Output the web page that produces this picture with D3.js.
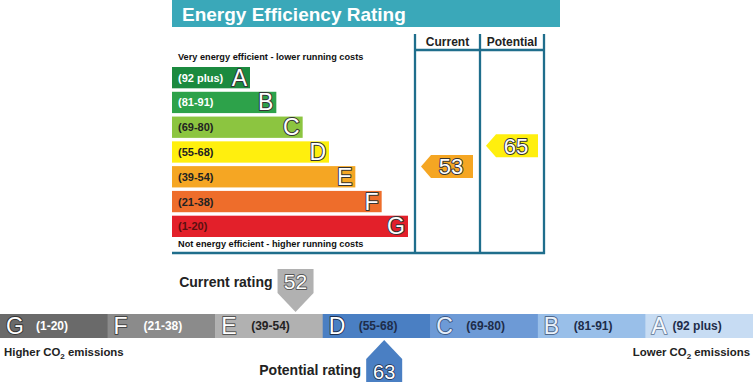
<!DOCTYPE html>
<html>
<head>
<meta charset="utf-8">
<script src="https://cdn.jsdelivr.net/npm/d3@7"></script>
<style>
  body { margin: 0; background: #fff; }
  svg { display: block; font-family: 'Liberation Sans', Arial, sans-serif; }
  .outl { paint-order: stroke; stroke-linejoin: round; }
</style>
</head>
<body>
<div id="chart"></div>
<script>
const BANDS = ['A', 'B', 'C', 'D', 'E', 'F', 'G'];
const RANGES = ['(92 plus)', '(81-91)', '(69-80)', '(55-68)', '(39-54)', '(21-38)', '(1-20)'];
const BAND_MIN = [92, 81, 69, 55, 39, 21, 1];
const BAND_MAX = [100, 91, 80, 68, 54, 38, 20];
const EER_COLORS = ['#1b8a3f', '#2da24a', '#8cc540', '#ffef0e', '#f5a623', '#ee6d2b', '#e3202a'];
const EER_LABEL_COLORS = ['#fff', '#fff', '#222', '#222', '#222', '#222', '#5a1010'];
const CO2_COLORS = ['#c7dcf3', '#99bfe9', '#6d9ad6', '#4a7fc3', '#b1b1b1', '#8b8b8b', '#6a6a6a'];
const CO2_LETTER_FILL = ['#f4f8fd', '#eaf2fb', '#e5eefa', '#ffffff', '#ffffff', '#ffffff', '#ffffff'];
const CO2_LETTER_STROKE = ['#6f86a3', '#50688c', '#3d5a86', '#1c2e4d', '#555', '#444', '#333'];
const CO2_LABEL_COLORS = ['#1e2d4a', '#1e2d4a', '#1e2d4a', '#1e2d4a', '#222', '#fff', '#fff'];

const eerCurrent = 53;
const eerPotential = 65;
const co2Current = 52;
const co2Potential = 63;

const W = 753, H = 382;
const svg = d3.select('#chart').append('svg')
  .attr('width', W).attr('height', H);

// ---------- top: energy efficiency rating ----------
const teal = '#3aa8b9';
const frame = '#1f6e8c';

svg.append('rect')
  .attr('x', 172).attr('y', 0).attr('width', 388).attr('height', 27)
  .attr('fill', teal);
svg.append('text')
  .attr('x', 182).attr('y', 21)
  .attr('fill', '#fff').attr('font-size', 19).attr('font-weight', 'bold')
  .text('Energy Efficiency Rating');

const y = d3.scaleBand().domain(BANDS).range([67, 237]).paddingInner(0.14);
const barEnd = d3.scaleLinear().domain([0, BANDS.length - 1]).range([250, 408]);

const bandG = svg.append('g');
bandG.selectAll('rect').data(BANDS).join('rect')
  .attr('x', 172)
  .attr('y', d => y(d))
  .attr('width', (d, i) => barEnd(i) - 172)
  .attr('height', y.bandwidth())
  .attr('fill', (d, i) => EER_COLORS[i]);

bandG.selectAll('text.range').data(RANGES).join('text')
  .attr('class', 'range')
  .attr('x', 178)
  .attr('y', (d, i) => y(BANDS[i]) + y.bandwidth() / 2 + 4)
  .attr('font-size', 11).attr('font-weight', 'bold')
  .attr('fill', (d, i) => EER_LABEL_COLORS[i])
  .text(d => d);

bandG.selectAll('text.letter').data(BANDS).join('text')
  .attr('class', 'letter outl')
  .attr('x', (d, i) => barEnd(i) - 3)
  .attr('y', d => y(d) + y.bandwidth() / 2 + 8)
  .attr('text-anchor', 'end')
  .attr('font-size', 23)
  .attr('fill', '#fff').attr('stroke', '#333').attr('stroke-width', 2)
  .text(d => d);

svg.append('text')
  .attr('x', 178).attr('y', 60)
  .attr('font-size', 9.2).attr('font-weight', 'bold').attr('fill', '#111')
  .text('Very energy efficient - lower running costs');
svg.append('text')
  .attr('x', 178).attr('y', 247)
  .attr('font-size', 9.2).attr('font-weight', 'bold').attr('fill', '#111')
  .text('Not energy efficient - higher running costs');

// frame
const colX = [415, 480, 544];
const fg = svg.append('g').attr('stroke', frame).attr('stroke-width', 2.3);
fg.selectAll('line.v').data(colX).join('line')
  .attr('class', 'v')
  .attr('x1', d => d).attr('x2', d => d)
  .attr('y1', 34).attr('y2', 254);
fg.append('line').attr('x1', colX[0]).attr('x2', colX[2]).attr('y1', 50).attr('y2', 50);
fg.append('line').attr('x1', 172).attr('x2', colX[2] + 1).attr('y1', 253).attr('y2', 253);

svg.append('text')
  .attr('x', (colX[0] + colX[1]) / 2).attr('y', 46)
  .attr('text-anchor', 'middle').attr('font-size', 12).attr('font-weight', 'bold').attr('fill', '#222')
  .text('Current');
svg.append('text')
  .attr('x', (colX[1] + colX[2]) / 2).attr('y', 46)
  .attr('text-anchor', 'middle').attr('font-size', 12).attr('font-weight', 'bold').attr('fill', '#222')
  .text('Potential');

// value -> vertical position, piecewise through the band slots
const gap = y.step() - y.bandwidth();
const rev = BANDS.slice().reverse();
const yDomain = rev.map((b, i) => BAND_MIN[BANDS.length - 1 - i]).concat([BAND_MAX[0] + 1]);
const yRange = rev.map(b => y(b) + y.bandwidth() + gap / 2).concat([y('A') - gap / 2]);
const yVal = d3.scaleLinear().domain(yDomain).range(yRange);

function bandIndex(v) {
  return BAND_MIN.findIndex(m => v >= m);
}

function leftArrow(x0, x1, cy, h) {
  const t = 10;
  return `M${x0},${cy} L${x0 + t},${cy - h / 2} L${x1},${cy - h / 2} L${x1},${cy + h / 2} L${x0 + t},${cy + h / 2} Z`;
}

[[eerCurrent, colX[0]], [eerPotential, colX[1]]].forEach(([v, cx]) => {
  const cy = yVal(v) - 1;
  const x0 = cx + 6, x1 = cx + 58;
  svg.append('path')
    .attr('d', leftArrow(x0, x1, cy, 23))
    .attr('fill', EER_COLORS[bandIndex(v)]);
  svg.append('text')
    .attr('class', 'outl')
    .attr('x', (x0 + 8 + x1) / 2).attr('y', cy + 8)
    .attr('text-anchor', 'middle').attr('font-size', 22)
    .attr('fill', '#fff').attr('stroke', '#333').attr('stroke-width', 2)
    .text(v);
});

// ---------- bottom: CO2 scale ----------
const co2Order = BANDS.slice().reverse();
const x = d3.scaleBand().domain(co2Order).range([0, W]);
const barY = 314, barH = 24;

const cg = svg.append('g');
cg.selectAll('rect').data(co2Order).join('rect')
  .attr('x', d => x(d)).attr('y', barY)
  .attr('width', x.bandwidth() + 0.5).attr('height', barH)
  .attr('fill', d => CO2_COLORS[BANDS.indexOf(d)]);

cg.selectAll('text.letter').data(co2Order).join('text')
  .attr('class', 'letter outl')
  .attr('x', d => x(d) + 6)
  .attr('y', barY + barH / 2 + 8)
  .attr('font-size', 23)
  .attr('fill', d => CO2_LETTER_FILL[BANDS.indexOf(d)])
  .attr('stroke', d => CO2_LETTER_STROKE[BANDS.indexOf(d)])
  .attr('stroke-width', 1.8)
  .text(d => d);

cg.selectAll('text.range').data(co2Order).join('text')
  .attr('class', 'range')
  .attr('x', d => x(d) + (d === 'A' ? 27 : 36))
  .attr('y', barY + barH / 2 + 4)
  .attr('font-size', 12).attr('font-weight', 'bold')
  .attr('fill', d => CO2_LABEL_COLORS[BANDS.indexOf(d)])
  .text(d => RANGES[BANDS.indexOf(d)]);

const xDomain = co2Order.map(b => BAND_MIN[BANDS.indexOf(b)]).concat([BAND_MAX[0] + 1]);
const xRange = co2Order.map(b => x(b)).concat([W]);
const xVal = d3.scaleLinear().domain(xDomain).range(xRange);

// current CO2 marker (points down)
{
  const px = xVal(co2Current) - 7;
  const top = 269, shoulder = 293, tip = barY - 2, hw = 18;
  svg.append('path')
    .attr('d', `M${px - hw},${top} L${px + hw},${top} L${px + hw},${shoulder} L${px},${tip} L${px - hw},${shoulder} Z`)
    .attr('fill', CO2_COLORS[BANDS.indexOf('E')]);
  svg.append('text')
    .attr('class', 'outl')
    .attr('x', px).attr('y', 289)
    .attr('text-anchor', 'middle').attr('font-size', 21)
    .attr('fill', '#fff').attr('stroke', '#555').attr('stroke-width', 1.8)
    .text(co2Current);
  svg.append('text')
    .attr('x', px - hw - 5).attr('y', 287)
    .attr('text-anchor', 'end').attr('font-size', 14).attr('font-weight', 'bold').attr('fill', '#222')
    .text('Current rating');
}

// potential CO2 marker (points up)
{
  const px = xVal(co2Potential);
  const tip = barY + barH + 2, shoulder = 359, bottom = H, hw = 18;
  svg.append('path')
    .attr('d', `M${px},${tip} L${px + hw},${shoulder} L${px + hw},${bottom} L${px - hw},${bottom} L${px - hw},${shoulder} Z`)
    .attr('fill', CO2_COLORS[BANDS.indexOf('D')]);
  svg.append('text')
    .attr('class', 'outl')
    .attr('x', px).attr('y', 379)
    .attr('text-anchor', 'middle').attr('font-size', 20)
    .attr('fill', '#fff').attr('stroke', '#1c2e4d').attr('stroke-width', 1.6)
    .text(co2Potential);
  svg.append('text')
    .attr('x', px - hw - 5).attr('y', 375)
    .attr('text-anchor', 'end').attr('font-size', 14).attr('font-weight', 'bold').attr('fill', '#222')
    .text('Potential rating');
}

function co2Text(xp, anchor, first) {
  const t = svg.append('text')
    .attr('x', xp).attr('y', 356)
    .attr('text-anchor', anchor)
    .attr('font-size', 11.4).attr('font-weight', 'bold').attr('fill', '#222');
  t.append('tspan').text(first + ' CO');
  t.append('tspan').attr('font-size', 8).attr('dy', 3).text('2');
  t.append('tspan').attr('dy', -3).text(' emissions');
}
co2Text(4, 'start', 'Higher');
co2Text(750, 'end', 'Lower');
</script>
</body>
</html>
